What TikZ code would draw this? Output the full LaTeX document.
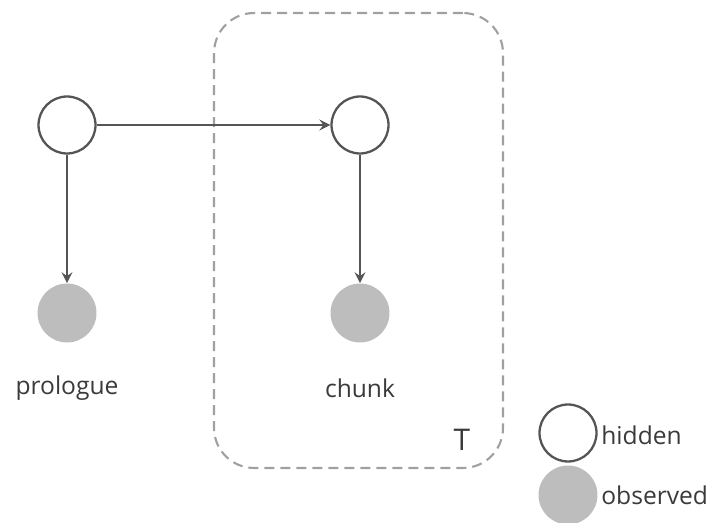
\documentclass[tikz,border=0pt]{standalone}
\usepackage{fontspec}
\setmainfont{Open Sans}
\usepackage{tikz}
\usetikzlibrary{arrows.meta,positioning}
\definecolor{edgegray}{HTML}{555555}
\definecolor{obsgray}{HTML}{BDBDBD}
\definecolor{plategray}{HTML}{A0A0A0}
\definecolor{textgray}{HTML}{3A3A3A}
\tikzstyle{hiddennode} = [
  circle, draw=edgegray, line width=1.3pt, fill=white,
  minimum size=1.14cm, inner sep=0pt
]
\tikzstyle{obsnode} = [
  circle, fill=obsgray, minimum size=1.18cm, inner sep=0pt
]
\tikzstyle{labeltext} = [font=\fontsize{14}{16}\selectfont, text=textgray]
\tikzstyle{platebox} = [
  rectangle, rounded corners=0.8cm, draw=plategray, line width=1.2pt,
  dash pattern=on 0.2cm off 0.12cm, minimum width=5.78cm, minimum height=9.1cm
]
\tikzstyle{arrowstyle} = [-{Stealth[length=2.2mm, width=2.2mm, inset=0.8mm]}, draw=edgegray, line width=1.3pt]

\begin{document}
\begin{tikzpicture}[x=0.02cm, y=-0.02cm]
\useasboundingbox (0,0) rectangle (717,523);

% --- plate ---
\node[platebox] (plate) at (358.5,240.5) {};
\node[labeltext, font=\fontsize{17}{19}\selectfont] (plateT) at (462,440) {T};

% --- nodes ---
\node[hiddennode] (prolhid) at (67,125) {};
\node[hiddennode] (chunkhid) at (360,125) {};
\node[obsnode] (prolobs) at (67,313) {};
\node[obsnode] (chunkobs) at (360,313) {};
\node[labeltext] (prollabel) at (67,388) {prologue};
\node[labeltext] (chunklabel) at (360,388) {chunk};

% --- arrows ---
\draw[arrowstyle] (prolhid) -- (chunkhid);
\draw[arrowstyle] (prolhid) -- (prolobs);
\draw[arrowstyle] (chunkhid) -- (chunkobs);

% --- legend ---
\node[hiddennode] (leghid) at (568,433) {};
\node[obsnode] (legobs) at (568,495) {};
\node[labeltext, anchor=west, inner sep=0pt] (leghidtext) at (601,435) {hidden};
\node[labeltext, anchor=west, inner sep=0pt] (legobstext) at (601,495) {observed};

\end{tikzpicture}
\end{document}
